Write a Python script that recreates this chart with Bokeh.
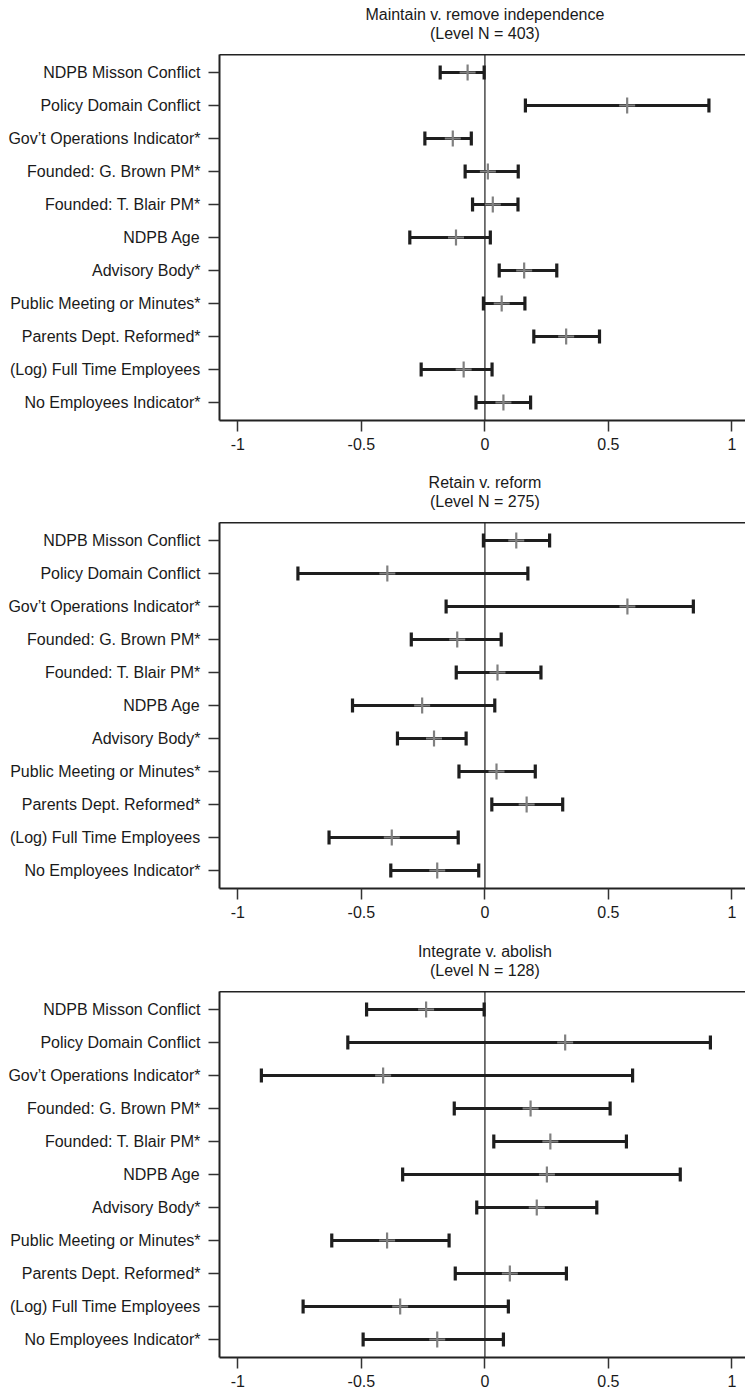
import numpy as np
from bokeh.plotting import figure
from bokeh.models import (FactorRange, Range1d, FixedTicker, PrintfTickFormatter,
                          Span, LinearAxis, ColumnDataSource)
from bokeh.core.properties import value
from bokeh.layouts import column
from bokeh.embed import file_html
from bokeh.resources import INLINE

# ---------------- data ----------------
labels = [
    "NDPB Misson Conflict",
    "Policy Domain Conflict",
    "Gov\u2019t Operations Indicator*",
    "Founded: G. Brown PM*",
    "Founded: T. Blair PM*",
    "NDPB Age",
    "Advisory Body*",
    "Public Meeting or Minutes*",
    "Parents Dept. Reformed*",
    "(Log) Full Time Employees",
    "No Employees Indicator*",
]
x_ticks = [-1, -0.5, 0, 0.5, 1]

panel_titles = ["Maintain v. remove independence", "Retain v. reform", "Integrate v. abolish"]
level_n = [403, 275, 128]

est_1 = [-0.070, 0.576, -0.130, 0.012, 0.032, -0.117, 0.159, 0.068, 0.329, -0.086, 0.075]
lo_1 = [-0.181, 0.164, -0.243, -0.080, -0.050, -0.304, 0.058, -0.006, 0.198, -0.258, -0.036]
hi_1 = [-0.003, 0.907, -0.055, 0.135, 0.134, 0.022, 0.291, 0.162, 0.464, 0.029, 0.185]

est_2 = [0.127, -0.395, 0.577, -0.112, 0.051, -0.254, -0.206, 0.047, 0.169, -0.377, -0.193]
lo_2 = [-0.006, -0.757, -0.157, -0.298, -0.116, -0.536, -0.354, -0.105, 0.028, -0.631, -0.381]
hi_2 = [0.262, 0.174, 0.844, 0.066, 0.227, 0.040, -0.076, 0.204, 0.315, -0.108, -0.025]

est_3 = [-0.238, 0.325, -0.412, 0.185, 0.265, 0.251, 0.210, -0.396, 0.101, -0.343, -0.193]
lo_3 = [-0.479, -0.555, -0.905, -0.124, 0.036, -0.333, -0.033, -0.620, -0.120, -0.736, -0.493]
hi_3 = [-0.003, 0.913, 0.598, 0.507, 0.573, 0.791, 0.453, -0.145, 0.330, 0.095, 0.075]

estimates = [est_1, est_2, est_3]
lowers = [lo_1, lo_2, lo_3]
uppers = [hi_1, hi_2, hi_3]

# ---------------- style ----------------
FONT = "Liberation Sans"
FS = "16px"
TXT = "#1a1a1a"
W = 745
LEFT = 219
TITLE_H = 54
FRAME_H = 366
bottoms = [48, 49, 35]
pad = 0.0082

items = []
for k in range(3):
    x_range = Range1d(-1.0745, 1.0551)

    # title strip, centred over x = 0 of the panel below
    tf = figure(width=W, height=TITLE_H, output_backend="svg", toolbar_location=None,
                x_range=x_range, y_range=Range1d(0, TITLE_H),
                x_axis_type=None, y_axis_type=None,
                min_border_left=LEFT, min_border_right=0, min_border_top=0, min_border_bottom=0)
    tf.outline_line_color = None
    tf.grid.visible = False
    tf.border_fill_color = "white"
    tf.text(x=[0, 0], y=[TITLE_H - 14, TITLE_H - 33.3],
            text=[panel_titles[k], "(Level N = %d)" % level_n[k]],
            text_align="center", text_baseline="middle",
            text_font=value(FONT), text_font_size=FS, text_color=TXT)
    items.append(tf)

    src = ColumnDataSource(dict(label=labels, est=estimates[k], lo=lowers[k], hi=uppers[k]))
    p = figure(width=W, height=FRAME_H + bottoms[k], output_backend="svg", toolbar_location=None,
               x_range=x_range,
               y_range=FactorRange(factors=list(reversed(labels)), range_padding=pad),
               min_border_left=LEFT, min_border_right=0, min_border_top=0,
               min_border_bottom=bottoms[k])
    p.outline_line_color = None
    p.xgrid.visible = False
    p.ygrid.visible = False
    p.background_fill_color = "white"
    p.border_fill_color = "white"

    zero = Span(location=0, dimension="height", line_color="#555555", line_width=1.6, level="underlay")
    p.add_layout(zero)

    p.segment(x0="lo", y0="label", x1="hi", y1="label", source=src,
              line_color="#1e1e1e", line_width=3)
    p.scatter(x="lo", y="label", source=src, marker="dash", angle=np.pi / 2, size=14,
              line_color="#1e1e1e", line_width=3.2)
    p.scatter(x="hi", y="label", source=src, marker="dash", angle=np.pi / 2, size=14,
              line_color="#1e1e1e", line_width=3.2)
    p.scatter(x="est", y="label", source=src, marker="cross", size=16,
              line_color="#808080", line_width=2.2)

    xa = p.xaxis[0]
    xa.ticker = FixedTicker(ticks=x_ticks)
    xa.formatter = PrintfTickFormatter(format="%g")
    ya = p.yaxis[0]
    for ax in (xa, ya):
        ax.axis_line_color = "#222222"
        ax.axis_line_width = 2
        ax.major_tick_out = 11
        ax.major_tick_in = 0
        ax.minor_tick_out = 0
        ax.minor_tick_in = 0
        ax.major_tick_line_color = "#333333"
        ax.major_tick_line_width = 1.5
        ax.major_label_text_font = FONT
        ax.major_label_text_font_size = FS
        ax.major_label_text_color = TXT
    xa.major_label_standoff = 6
    ya.major_label_standoff = 8

    top = LinearAxis(ticker=FixedTicker(ticks=[]), major_label_text_font_size="0px",
                     major_tick_out=0, major_tick_in=0, minor_tick_out=0, minor_tick_in=0,
                     axis_line_width=2, axis_line_color="#222222", major_label_standoff=0)
    p.add_layout(top, "above")
    items.append(p)

layout = column(*items, spacing=0)
open("out.html", "w").write(file_html(layout, INLINE))
